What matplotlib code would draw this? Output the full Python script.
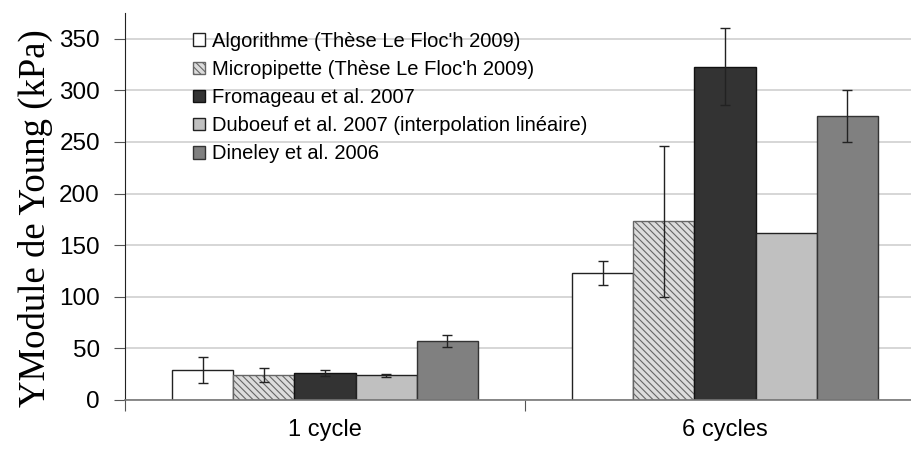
import matplotlib.pyplot as plt
import numpy as np

groups = ['1 cycle', '6 cycles']
series = ['Algorithme (Thèse Le Floc\'h 2009)',
          'Micropipette (Thèse Le Floc\'h 2009)',
          'Fromageau et al. 2007',
          'Duboeuf et al. 2007 (interpolation linéaire)',
          'Dineley et al. 2006']
values = [[29, 123],
          [24, 173],
          [26, 323],
          [24, 162],
          [57, 275]]
errors = [[12.5, 12],
          [7, 73],
          [3, 37],
          [1.5, 0],
          [6, 25]]

faces = ['white', '#dcdcdc', '#333333', '#c0c0c0', '#808080']
hatches = [None, '\\\\\\\\\\', None, None, None]
edges = ['#222222', '#666666', '#111111', '#222222', '#333333']

plt.rcParams['hatch.linewidth'] = 0.8

fig = plt.figure(figsize=(9.12, 4.53), dpi=100)
W, H = 912, 453
ax = fig.add_axes([125 / W, 53 / H, 800 / W, 387 / H])

x = np.arange(len(groups))
w = 0.153
for i in range(len(series)):
    pos = x - 2 * w + i * w
    err = [e if e > 0 else np.nan for e in errors[i]]
    ax.bar(pos, values[i], w, color=faces[i], edgecolor=edges[i],
           hatch=hatches[i], linewidth=1.0, label=series[i], zorder=2)
    ax.errorbar(pos, values[i], yerr=err, fmt='none', ecolor='#222222',
                elinewidth=1.0, capsize=3.5, capthick=1.0, zorder=3)

ax.set_xlim(-0.5, 1.5)
ax.set_ylim(0, 375)
ax.set_yticks(range(0, 351, 50))
ax.yaxis.grid(True, color='#d0d0d0', linewidth=1.2, zorder=0)
ax.set_axisbelow(True)

# group boundaries get the ticks, group names sit at the centres
ax.set_xticks([-0.5, 0.5, 1.5])
ax.set_xticklabels([])
ax.set_xticks(x, minor=True)
ax.set_xticklabels(groups, minor=True, fontsize=17, family='Liberation Sans')
ax.tick_params(axis='x', which='minor', length=0, pad=14)
ax.tick_params(axis='x', which='major', length=8, color='#555555')
ax.tick_params(axis='y', length=8, color='#555555', labelsize=17.5, pad=10)
for lab in ax.get_yticklabels():
    lab.set_family('Liberation Sans')

for s in ['top', 'right']:
    ax.spines[s].set_visible(False)
ax.spines['left'].set_color('#222222')
ax.spines['bottom'].set_color('#777777')
ax.spines['bottom'].set_linewidth(1.2)

fig.text(35 / W, 1 - 218 / H, 'YModule de Young (kPa)', rotation=90,
         ha='center', va='center', family='Liberation Serif', fontsize=26.5)

ax.legend(loc='upper left', bbox_to_anchor=(0.085, 0.951), frameon=False,
          prop={'family': 'Liberation Sans', 'size': 14.5},
          handlelength=0.6, handleheight=0.6, handletextpad=0.35,
          labelspacing=0.45, borderpad=0, borderaxespad=0)

fig.savefig('out.png', dpi=100, facecolor='white')
